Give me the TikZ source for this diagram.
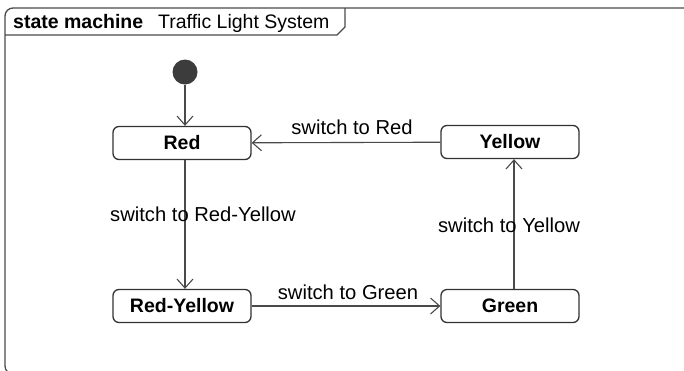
\documentclass[tikz,border=0pt]{standalone}
\usepackage{fontspec}
\setmainfont{Liberation Sans}
\usetikzlibrary{arrows.meta}
\definecolor{edge}{HTML}{4A4A4A}
\definecolor{boxline}{HTML}{333333}
\definecolor{dot}{HTML}{3C3C3C}
\tikzset{
  state/.style={draw=boxline, line width=1.3pt, rounded corners=6pt, fill=white,
    minimum width=138pt, minimum height=33pt, inner sep=0pt,
    font=\fontsize{19.5}{22}\selectfont\bfseries},
  trans/.style={draw=edge, line width=1.1pt, -{Straight Barb[length=9pt,width=16pt,line width=1.1pt]}},
  lbl/.style={font=\fontsize{20.2}{23}\selectfont, inner sep=0pt, text=black},
  frameline/.style={draw=edge, line width=1.3pt}
}
\begin{document}
\begin{tikzpicture}[x=1pt, y=-1pt]
  \useasboundingbox (0,0) rectangle (684,370);
  % diagram frame with its name tab
  \draw[frameline, rounded corners=8pt] (700,8) -- (5,8) -- (5,374) -- (700,374);
  \draw[frameline] (5,35) -- (337,35) -- (345,27) -- (345,8);
  \node[lbl, anchor=base west, font=\fontsize{19.5}{22}\selectfont\bfseries] (kind) at (13,28) {state machine};
  \node[lbl, anchor=base west, font=\fontsize{19.5}{22}\selectfont] (title) at (158,28) {Traffic Light System};

  % states
  \node[circle, fill=dot, minimum size=25pt, inner sep=0pt] (init) at (185,72) {};
  \node[state] (red) at (182,143) {Red};
  \node[state] (yellow) at (510,142) {Yellow};
  \node[state] (redyellow) at (182,306) {Red-Yellow};
  \node[state] (green) at (510,306) {Green};

  % transitions
  \draw[trans] (init) -- (red.north -| init);
  \draw[trans] (yellow) -- (red);
  \draw[trans] (red.south -| init) -- (redyellow.north -| init);
  \draw[trans] (redyellow) -- (green);
  \coordinate (gy) at (514,0);
  \draw[trans] (green.north -| gy) -- (yellow.south -| gy);

  % transition labels
  \node[lbl] (l1) at (352,127) {switch to Red};
  \node[lbl] (l2) at (203,214) {switch to Red-Yellow};
  \node[lbl] (l3) at (348,292) {switch to Green};
  \node[lbl] (l4) at (509,225) {switch to Yellow};
\end{tikzpicture}
\end{document}
